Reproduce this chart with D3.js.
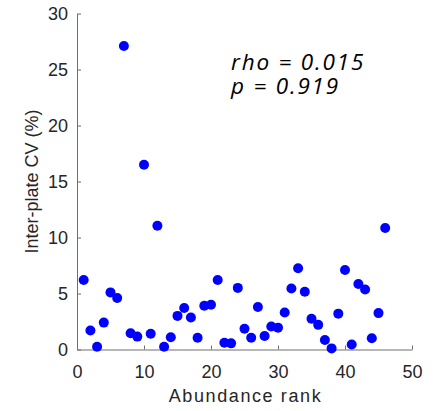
<!DOCTYPE html>
<html>
<head>
  <meta charset="UTF-8">
  <title>Inter-plate CV vs abundance rank</title>
  <script src="https://d3js.org/d3.v7.min.js"></script>
  <style>
    body { margin: 0; background: #fff; }
    .tick text { font-family: "Liberation Sans", Arial, sans-serif; font-size: 18px; fill: #262626; }
    .tick line { stroke: #6e6e6e; }
    .domain { stroke: #6e6e6e; }
    .axis-label { font-family: "Liberation Sans", Arial, sans-serif; font-size: 18px; fill: #262626; }
    .note { font-family: "Open Sans", sans-serif; font-style: italic; font-size: 22.5px; letter-spacing: 1.8px; fill: #000; }
  </style>
</head>
<body>
  <div id="chart"></div>
  <script>
    // abundance rank 1..46 and inter-plate CV (%)
    const ranks = d3.range(1, 47);
    const cvValues = [
      6.2, 1.7, 0.25, 2.4, 5.1, 4.6, 27.1, 1.45, 1.15, 16.5,
      1.4, 11.05, 0.25, 1.1, 3.0, 3.7, 2.85, 1.05, 3.9, 4.0,
      6.2, 0.6, 0.55, 5.5, 1.85, 1.05, 3.8, 1.2, 2.05, 1.95,
      3.3, 5.45, 7.25, 5.15, 2.75, 2.2, 0.85, 0.1, 3.2, 7.1,
      0.45, 5.85, 5.35, 1.0, 3.25, 10.85
    ];
    const xTicks = [0, 10, 20, 30, 40, 50];
    const yTicks = [0, 5, 10, 15, 20, 25, 30];
    const statLines = ["rho = 0.015", "p = 0.919"];

    const width = 445, height = 411;
    const margin = { top: 13.5, right: 33, bottom: 61.5, left: 77 };
    const innerW = width - margin.left - margin.right;
    const innerH = height - margin.top - margin.bottom;

    const x = d3.scaleLinear().domain([0, 50]).range([0, innerW]);
    const y = d3.scaleLinear().domain([0, 30]).range([innerH, 0]);

    const svg = d3.select("#chart").append("svg")
      .attr("width", width)
      .attr("height", height);

    const g = svg.append("g")
      .attr("transform", `translate(${margin.left},${margin.top})`);

    g.append("g")
      .attr("transform", `translate(0,${innerH})`)
      .call(d3.axisBottom(x).tickValues(xTicks).tickSize(-4).tickSizeOuter(0).tickPadding(28))
      .call(a => a.selectAll(".tick text").attr("dy", "0"));

    g.append("g")
      .call(d3.axisLeft(y).tickValues(yTicks).tickSize(-4).tickSizeOuter(0).tickPadding(9));

    g.selectAll(".dot")
      .data(ranks)
      .enter()
      .append("circle")
      .attr("class", "dot")
      .attr("cx", d => x(d))
      .attr("cy", (d, i) => y(cvValues[i]))
      .attr("r", 5)
      .attr("fill", "#0000ff");

    svg.append("text")
      .attr("class", "axis-label")
      .attr("x", margin.left + innerW / 2 + 1)
      .attr("y", 401.5)
      .attr("text-anchor", "middle")
      .style("letter-spacing", "1.6px")
      .text("Abundance rank");

    svg.append("text")
      .attr("class", "axis-label")
      .attr("transform", `translate(37.5,${margin.top + innerH / 2}) rotate(-90)`)
      .attr("text-anchor", "middle")
      .text("Inter-plate CV (%)");

    svg.selectAll(".note")
      .data(statLines)
      .enter()
      .append("text")
      .attr("class", "note")
      .attr("x", 231)
      .attr("y", (d, i) => 69.5 + i * 24)
      .text(d => d);
  </script>
</body>
</html>
